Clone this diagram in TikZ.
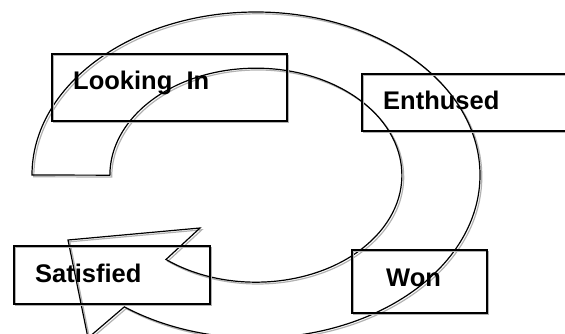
\documentclass[tikz,border=0pt]{standalone}
\usepackage{fontspec}
\setmainfont{Liberation Sans}

\tikzset{
  stagebox/.style={draw, line width=1.3pt, inner sep=0pt, outer sep=0pt,
    preaction={draw=gray!60, line width=1.3pt, transform canvas={xshift=1.8pt, yshift=-1.8pt}}},
  stagetext/.style={anchor=base west, inner sep=0pt, font=\fontsize{25.5}{30}\selectfont\bfseries},
  cyclearrow/.style={draw, line width=1.2pt, line join=miter,
    preaction={draw=gray!60, line width=1.2pt, transform canvas={xshift=1.8pt, yshift=-1.8pt}}}
}

\begin{document}
\begin{tikzpicture}[x=1pt,y=-1pt]
    \useasboundingbox (0,0) rectangle (565,334);
    \clip (0,0) rectangle (565,334);
    % Circular arrow
    \coordinate (tailout) at (32,175);
    \coordinate (tailin) at (110,175);
    \coordinate (tip) at (88,338);
    \coordinate (tipleft) at (68,240);
    \coordinate (barb) at (200,228);
    \path[cyclearrow] (tailout)
        arc[start angle=180, end angle=486, x radius=224, y radius=163]
        -- (tip) -- (tipleft) -- (barb)
        -- (166,259.5)
        arc[start angle=488, end angle=180, x radius=146, y radius=107]
        -- cycle;
    % Boxes
    \node (looking) at (169.5,87.5) [stagebox, minimum width=235pt, minimum height=67pt] {};
    \node (enthused) at (501,102.5) [stagebox, minimum width=278pt, minimum height=57pt] {};
    \node (won) at (419.5,281.5) [stagebox, minimum width=135pt, minimum height=63pt] {};
    \node (satisfied) at (112,275) [stagebox, minimum width=196pt, minimum height=58pt] {};
    % Labels
    \node (lookinglbl) at (73,90) [stagetext] {Looking\ \ In};
    \node (enthusedlbl) at (383,110) [stagetext] {Enthused};
    \node (wonlbl) at (386,286) [stagetext] {Won};
    \node (satisfiedlbl) at (35,282) [stagetext] {Satisfied};
\end{tikzpicture}
\end{document}
